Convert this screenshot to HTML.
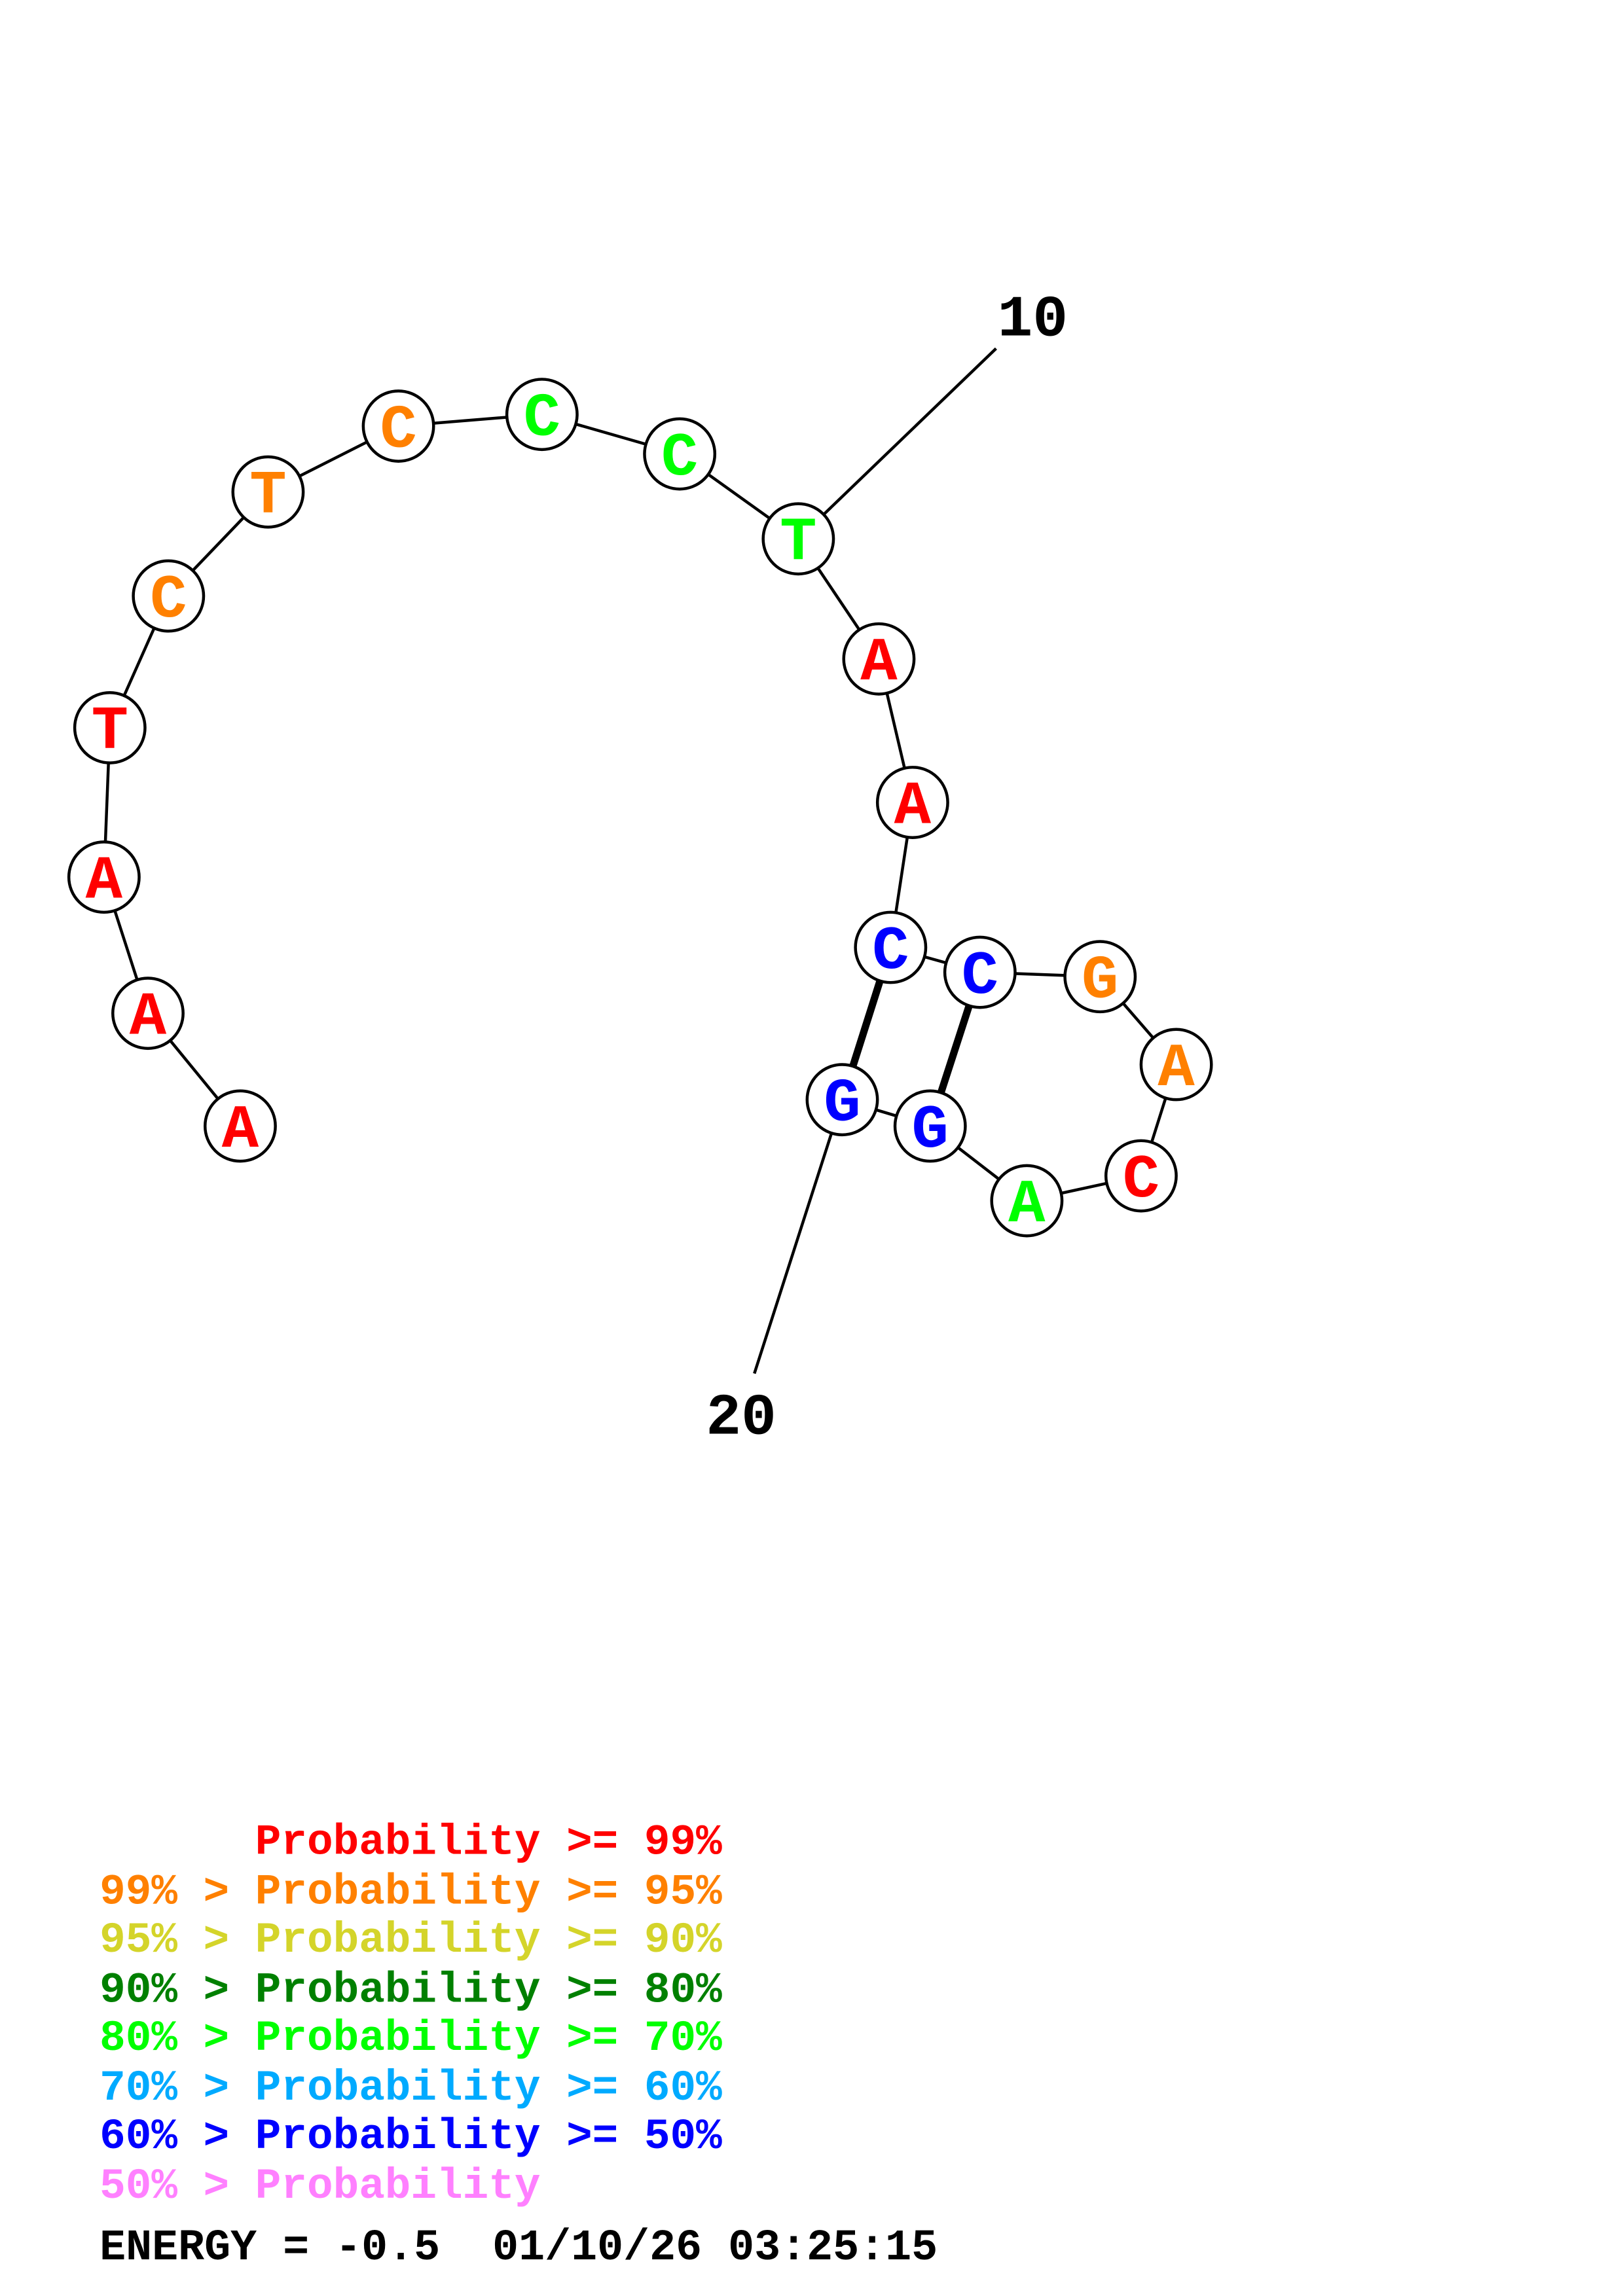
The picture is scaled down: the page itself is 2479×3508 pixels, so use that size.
<!DOCTYPE html>
<html><head><style>html,body{margin:0;padding:0;background:#fff}svg{display:block}.p{white-space:pre}</style></head>
<body>
<svg width="2479" height="3508" viewBox="0 0 1108 1568" preserveAspectRatio="none" xmlns="http://www.w3.org/2000/svg">
<rect width="1108" height="1568" fill="#fff"/>
<g stroke="#000" stroke-width="2" fill="none">
<polyline points="164,769 101,692 71,599 75,497 115,407 183,336 272,291 370,283 464,310 545,368 600,450 623,548 608,647 669,664 751,667 803,727 779,803 701,820 635,769 575,751"/>
<line x1="545" y1="368" x2="680" y2="238"/>
<line x1="575" y1="751" x2="515" y2="938"/>
<line x1="608" y1="647" x2="575" y2="751" stroke-width="5"/>
<line x1="669" y1="664" x2="635" y2="769" stroke-width="5"/>
</g>
<g stroke="#000" stroke-width="2" fill="#fff">
<circle cx="164" cy="769" r="24"/><circle cx="101" cy="692" r="24"/><circle cx="71" cy="599" r="24"/><circle cx="75" cy="497" r="24"/><circle cx="115" cy="407" r="24"/><circle cx="183" cy="336" r="24"/><circle cx="272" cy="291" r="24"/><circle cx="370" cy="283" r="24"/><circle cx="464" cy="310" r="24"/><circle cx="545" cy="368" r="24"/><circle cx="600" cy="450" r="24"/><circle cx="623" cy="548" r="24"/><circle cx="608" cy="647" r="24"/><circle cx="669" cy="664" r="24"/><circle cx="751" cy="667" r="24"/><circle cx="803" cy="727" r="24"/><circle cx="779" cy="803" r="24"/><circle cx="701" cy="820" r="24"/><circle cx="635" cy="769" r="24"/><circle cx="575" cy="751" r="24"/>
</g>
<g font-family="Liberation Mono, monospace" font-weight="bold" font-size="42" text-anchor="middle">
<text x="164" y="783" fill="#f00">A</text>
<text x="101" y="706" fill="#f00">A</text>
<text x="71" y="613" fill="#f00">A</text>
<text x="75" y="511" fill="#f00">T</text>
<text x="115" y="421" fill="#ff8000">C</text>
<text x="183" y="350" fill="#ff8000">T</text>
<text x="272" y="305" fill="#ff8000">C</text>
<text x="370" y="297" fill="#0f0">C</text>
<text x="464" y="324" fill="#0f0">C</text>
<text x="545" y="382" fill="#0f0">T</text>
<text x="600" y="464" fill="#f00">A</text>
<text x="623" y="562" fill="#f00">A</text>
<text x="608" y="661" fill="#00f">C</text>
<text x="669" y="678" fill="#00f">C</text>
<text x="751" y="681" fill="#ff8000">G</text>
<text x="803" y="741" fill="#ff8000">A</text>
<text x="779" y="817" fill="#f00">C</text>
<text x="701" y="834" fill="#0f0">A</text>
<text x="635" y="783" fill="#00f">G</text>
<text x="575" y="765" fill="#00f">G</text>
<text x="705" y="229" fill="#000" font-size="40">10</text>
<text x="506" y="979" fill="#000" font-size="40">20</text>
</g>
<g font-family="Liberation Mono, monospace" font-weight="bold" font-size="29.5">
<text class="p" x="68" y="1266" fill="#f00">      Probability &gt;= 99%</text>
<text class="p" x="68" y="1300" fill="#ff8000">99% &gt; Probability &gt;= 95%</text>
<text class="p" x="68" y="1333" fill="#d4d42a">95% &gt; Probability &gt;= 90%</text>
<text class="p" x="68" y="1367" fill="#008000">90% &gt; Probability &gt;= 80%</text>
<text class="p" x="68" y="1400" fill="#0f0">80% &gt; Probability &gt;= 70%</text>
<text class="p" x="68" y="1434" fill="#00aaff">70% &gt; Probability &gt;= 60%</text>
<text class="p" x="68" y="1467" fill="#00f">60% &gt; Probability &gt;= 50%</text>
<text class="p" x="68" y="1501" fill="#ff80ff">50% &gt; Probability</text>
<text class="p" x="68" y="1543" fill="#000" font-size="29.8">ENERGY = -0.5  01/10/26 03:25:15</text>
</g>
</svg>
</body></html>
